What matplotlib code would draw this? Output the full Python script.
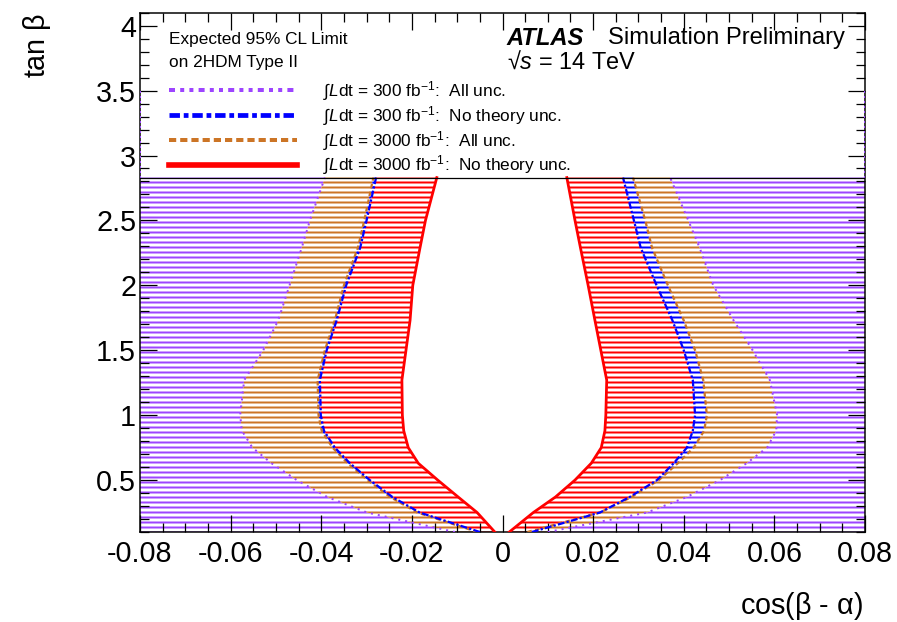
import matplotlib
matplotlib.use("Agg")
import matplotlib.pyplot as plt
from matplotlib.lines import Line2D
from matplotlib.ticker import MultipleLocator, FuncFormatter

plt.rcParams['font.family'] = ['Liberation Sans', 'DejaVu Sans']
plt.rcParams['mathtext.fontset'] = 'custom'
plt.rcParams['mathtext.rm'] = 'Liberation Sans'
plt.rcParams['mathtext.it'] = 'Liberation Sans:italic'
plt.rcParams['mathtext.bf'] = 'Liberation Sans:bold'
plt.rcParams['axes.unicode_minus'] = False
plt.rcParams['hatch.linewidth'] = 1.6

# tan(beta) rows where the contours were read
tanb = [0.1, 0.25, 0.37, 0.5, 0.63, 0.75, 0.88, 1.0, 1.27, 1.5, 1.73, 2.0, 2.29, 2.5, 2.83]

# 300 fb-1, all unc. (purple)
purple_lo = [-0.0105, -0.0299, -0.0387, -0.0454, -0.0510, -0.0552, -0.0575, -0.0579,
             -0.0570, -0.0528, -0.0495, -0.0470, -0.0443, -0.0425, -0.0392]
purple_hi = [0.0100, 0.0319, 0.0407, 0.0480, 0.0539, 0.0584, 0.0604, 0.0606,
             0.0590, 0.0552, 0.0510, 0.0465, 0.0435, 0.0410, 0.0370]
# 300 fb-1, no theory unc. (blue)
blue_lo = [-0.0050, -0.0183, -0.0243, -0.0293, -0.0337, -0.0370, -0.0394, -0.0401,
           -0.0403, -0.0388, -0.0366, -0.0345, -0.0314, -0.0300, -0.0279]
blue_hi = [0.0065, 0.0215, 0.0281, 0.0341, 0.0378, 0.0407, 0.0420, 0.0425,
           0.0420, 0.0400, 0.0375, 0.0340, 0.0305, 0.0290, 0.0266]
# 3000 fb-1, all unc. (orange)
orange_lo = [-0.0055, -0.0188, -0.0248, -0.0298, -0.0342, -0.0375, -0.0399, -0.0406,
             -0.0408, -0.0392, -0.0370, -0.0350, -0.0319, -0.0305, -0.0285]
orange_hi = [0.0055, 0.0215, 0.0285, 0.0345, 0.0387, 0.0422, 0.0445, 0.0451,
             0.0443, 0.0425, 0.0400, 0.0365, 0.0330, 0.0315, 0.0288]
# 3000 fb-1, no theory unc. (red)
red_lo = [-0.0017, -0.0056, -0.0098, -0.0143, -0.0186, -0.0208, -0.0218, -0.0221,
          -0.0222, -0.0213, -0.0204, -0.0198, -0.0182, -0.0170, -0.0145]
red_hi = [0.0015, 0.0068, 0.0117, 0.0160, 0.0196, 0.0218, 0.0226, 0.0228,
          0.0230, 0.0217, 0.0204, 0.0189, 0.0172, 0.0160, 0.0142]

edge_tanb = [2.83, 3.52]
legend_top = 2.83

labels = [r"$\int$$L$dt = 300 fb$^{-1}$:  All unc.",
          r"$\int$$L$dt = 300 fb$^{-1}$:  No theory unc.",
          r"$\int$$L$dt = 3000 fb$^{-1}$:  All unc.",
          r"$\int$$L$dt = 3000 fb$^{-1}$:  No theory unc."]

PURPLE = '#9d45ff'
BLUE = '#0000ff'
ORANGE = '#cc7526'
RED = '#ff0000'

xmin, xmax = -0.08, 0.08

DPI = 90
fig = plt.figure(figsize=(897 / DPI, 622 / DPI), dpi=DPI)
ax = fig.add_axes([140 / 897, 90 / 622, 725 / 897, 519.3 / 622])

bands = [(xmin, purple_lo, PURPLE), (purple_lo, orange_lo, ORANGE),
         (orange_lo, blue_lo, BLUE), (blue_lo, red_lo, RED),
         (red_hi, blue_hi, RED), (blue_hi, orange_hi, BLUE),
         (orange_hi, purple_hi, ORANGE), (purple_hi, xmax, PURPLE)]
for a, b, c in bands:
    ax.fill_betweenx(tanb, a, b, facecolor='none', edgecolor=c, hatch='---',
                     linewidth=0, zorder=1)

ax.plot(purple_lo, tanb, color=PURPLE, lw=1.6, ls=(0, (1, 2.5)), zorder=3)
ax.plot(purple_hi, tanb, color=PURPLE, lw=1.6, ls=(0, (1, 2.5)), zorder=3)
ax.plot([xmin, xmin], edge_tanb, color=PURPLE, lw=1.6, ls=(0, (1, 1.5)), zorder=3)
ax.plot([xmax, xmax], edge_tanb, color=PURPLE, lw=1.6, ls=(0, (1, 1.5)), zorder=3)
ax.plot(orange_lo, tanb, color=ORANGE, lw=1.8, ls=(0, (2, 1.5)), zorder=3)
ax.plot(orange_hi, tanb, color=ORANGE, lw=1.8, ls=(0, (2, 1.5)), zorder=3)
ax.plot(blue_lo, tanb, color=BLUE, lw=1.8, ls=(0, (3, 1, 1, 1)), zorder=4)
ax.plot(blue_hi, tanb, color=BLUE, lw=1.8, ls=(0, (3, 1, 1, 1)), zorder=4)
ax.plot(red_lo, tanb, color=RED, lw=2.2, zorder=5)
ax.plot(red_hi, tanb, color=RED, lw=2.2, zorder=5)

ax.axhline(legend_top, color='black', lw=1.0, zorder=6)

ax.set_xlim(xmin, xmax)
ax.set_ylim(0.1, 4.1)
ax.xaxis.set_major_locator(MultipleLocator(0.02))
ax.xaxis.set_minor_locator(MultipleLocator(0.005))
ax.yaxis.set_major_locator(MultipleLocator(0.5))
ax.yaxis.set_minor_locator(MultipleLocator(0.1))
fmt = FuncFormatter(lambda v, p: '%g' % round(v, 4))
ax.xaxis.set_major_formatter(fmt)
ax.yaxis.set_major_formatter(fmt)
ax.tick_params(which='both', direction='in', top=True, right=True, width=1.0,
               labelsize=23)
ax.tick_params(which='major', length=13.5)
ax.tick_params(which='minor', length=7.5)
ax.tick_params(axis='x', pad=6)
ax.tick_params(axis='y', pad=3)
for s in ax.spines.values():
    s.set_linewidth(1.2)

ax.set_xlabel(r'cos($\mathrm{\beta}$ - $\mathrm{\alpha}$)', fontsize=23, loc='right')
ax.xaxis.set_label_coords(0.997, -0.112)
ax.set_ylabel(r'tan $\mathrm{\beta}$', fontsize=23, loc='top')
ax.yaxis.set_label_coords(-0.12, 1.0)

ax.text(0.04, 0.949, 'Expected 95% CL Limit', transform=ax.transAxes,
        fontsize=13.8, va='center', ha='left')
ax.text(0.04, 0.905, 'on 2HDM Type II', transform=ax.transAxes,
        fontsize=13.8, va='center', ha='left')
ax.text(0.506, 0.951, 'ATLAS', transform=ax.transAxes, fontsize=19,
        fontweight='bold', style='italic', va='center', ha='left')
ax.text(0.645, 0.951, 'Simulation Preliminary', transform=ax.transAxes,
        fontsize=19, va='center', ha='left')
ax.text(0.506, 0.905, '\u221a$s$ = 14 TeV', transform=ax.transAxes,
        fontsize=18.8, va='center', ha='left')

handles = [Line2D([], [], color=PURPLE, lw=3.2, ls=(0, (1.5, 1.3, 1, 1.3, 1, 1.3))),
           Line2D([], [], color=BLUE, lw=3.8, ls=(0, (2.2, 0.8, 1, 0.8))),
           Line2D([], [], color=ORANGE, lw=3.2, ls=(0, (1.8, 1.0))),
           Line2D([], [], color=RED, lw=4.5)]
ax.legend(handles, labels, loc='upper left', bbox_to_anchor=(0.04, 0.872),
          frameon=False, fontsize=13.8, handlelength=7.4, handletextpad=1.5,
          labelspacing=0.05, borderaxespad=0, borderpad=0)

fig.savefig('out.png', dpi=DPI)
